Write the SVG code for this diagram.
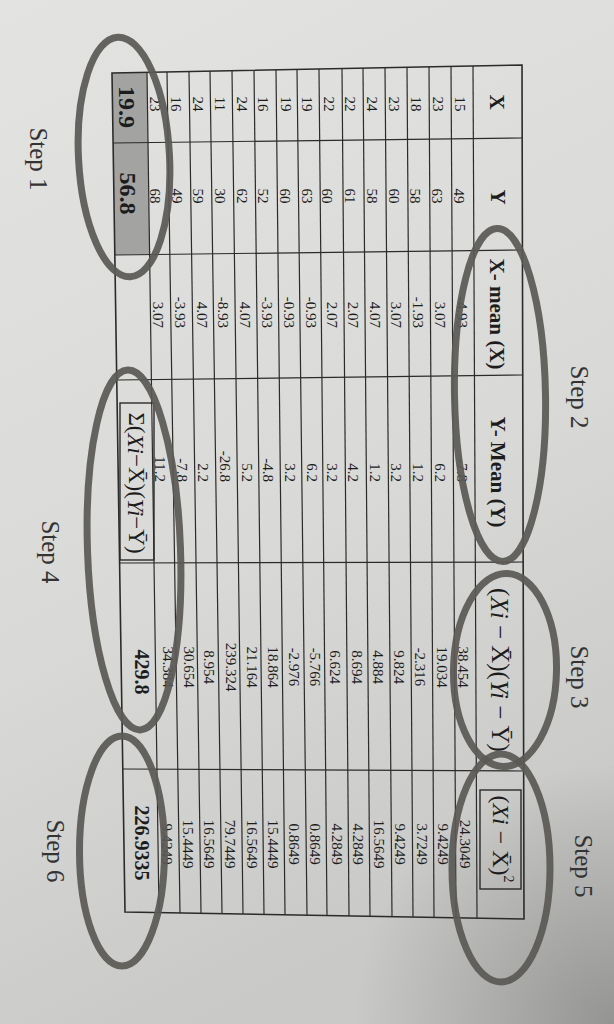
<svg xmlns="http://www.w3.org/2000/svg" width="614" height="1024" viewBox="0 0 614 1024">
<style>
text{font-family:"Liberation Serif","Times New Roman",serif;fill:#1c1c1c;dominant-baseline:central;text-anchor:middle}
.d{font-size:15px}
.de{font-size:15px;text-anchor:end}
.h{font-size:21px;font-weight:bold}
.tot{font-weight:bold}
.m{font-size:25px}
.s{font-size:25px;fill:#333}
.it{font-style:italic}
.grid line{stroke:#2b2b2b;stroke-width:1.2}
.edge{fill:none;stroke:#2b2b2b;stroke-width:1.6}
.ring{fill:none;stroke:#5a5955;stroke-width:7;opacity:0.93}
</style>
<defs>
<linearGradient id="paper" x1="0" y1="0" x2="0.3" y2="1">
<stop offset="0" stop-color="#e3e3e1"/>
<stop offset="0.6" stop-color="#d9d9d7"/>
<stop offset="1" stop-color="#c9c9c7"/>
</linearGradient>
<radialGradient id="shade" cx="614" cy="1024" r="260" gradientUnits="userSpaceOnUse">
<stop offset="0" stop-color="#8e8e8c" stop-opacity="0.9"/>
<stop offset="1" stop-color="#8e8e8c" stop-opacity="0"/>
</radialGradient>
</defs>
<rect width="614" height="1024" fill="url(#paper)"/>
<rect width="614" height="1024" fill="url(#shade)"/>

<g id="table">
<polygon id="shaded-totals" points="112.3,73 147,72.3 149.6,254 114.8,255" fill="#a3a3a1"/>
<g class="grid">
<line x1="473" y1="66" x2="477" y2="918.2"/>
<line x1="451" y1="66.4" x2="456" y2="917.8"/>
<line x1="429" y1="66.8" x2="434" y2="917.4"/>
<line x1="407" y1="67.2" x2="413" y2="917.1"/>
<line x1="385" y1="67.7" x2="392" y2="916.7"/>
<line x1="363" y1="68.1" x2="370" y2="916.3"/>
<line x1="342" y1="68.5" x2="349" y2="915.9"/>
<line x1="319" y1="69" x2="327" y2="915.5"/>
<line x1="297" y1="69.4" x2="307" y2="915.2"/>
<line x1="276" y1="69.8" x2="285" y2="914.8"/>
<line x1="254" y1="70.2" x2="264" y2="914.4"/>
<line x1="232" y1="70.7" x2="243" y2="914.1"/>
<line x1="210" y1="71.1" x2="222" y2="913.7"/>
<line x1="189" y1="71.5" x2="201" y2="913.3"/>
<line x1="167" y1="71.9" x2="180" y2="913"/>
<line x1="147" y1="72.3" x2="159" y2="912.6"/>
<line x1="113.1" y1="143" x2="522.2" y2="138"/>
<line x1="114.8" y1="255" x2="522.5" y2="250"/>
<line x1="116.8" y1="380" x2="522.9" y2="375"/>
<line x1="119.6" y1="563" x2="523.4" y2="562"/>
<line x1="122.8" y1="769" x2="523.9" y2="771"/>
</g>
<polygon class="edge" points="112,73 522,65 524,919 125,912"/>
<rect class="edge" x="120" y="403" width="34" height="157" style="stroke-width:1.4"/>
<rect class="edge" x="480" y="790" width="41" height="99" style="stroke-width:1.4"/>

<g id="headers" transform="rotate(90)">
<text class="h" x="102" y="-497">X</text>
<text class="h" x="197" y="-498">Y</text>
<text class="h" x="314" y="-497">X- mean (X)</text>
<text class="h" x="472" y="-498">Y- Mean (Y)</text>
<text class="m" x="670" y="-500">(<tspan class="it">Xi</tspan> − X̄)(<tspan class="it">Yi</tspan> − Ȳ)</text>
<text class="m" x="839" y="-501" style="font-size:24px">(<tspan class="it">Xi</tspan> − X̄)<tspan baseline-shift="super" style="font-size:14px">2</tspan></text>
</g>

<g id="col-x" transform="rotate(90)">
<text class="d" x="104" y="-460">15</text>
<text class="d" x="104" y="-438">23</text>
<text class="d" x="104" y="-416">18</text>
<text class="d" x="104" y="-394">23</text>
<text class="d" x="104" y="-372">24</text>
<text class="d" x="104" y="-350">22</text>
<text class="d" x="104" y="-329">22</text>
<text class="d" x="104" y="-307">19</text>
<text class="d" x="104" y="-286">19</text>
<text class="d" x="104" y="-263">16</text>
<text class="d" x="104" y="-242">24</text>
<text class="d" x="104" y="-220">11</text>
<text class="d" x="104" y="-198">24</text>
<text class="d" x="104" y="-176">16</text>
<text class="d" x="104" y="-155">23</text>
</g>
<g id="col-y" transform="rotate(90)">
<text class="d" x="196" y="-459">49</text>
<text class="d" x="196" y="-437">63</text>
<text class="d" x="196" y="-415">58</text>
<text class="d" x="196" y="-394">60</text>
<text class="d" x="196" y="-372">58</text>
<text class="d" x="196" y="-350">61</text>
<text class="d" x="196" y="-327">60</text>
<text class="d" x="196" y="-307">63</text>
<text class="d" x="196" y="-285">60</text>
<text class="d" x="196" y="-263">52</text>
<text class="d" x="196" y="-242">62</text>
<text class="d" x="196" y="-220">30</text>
<text class="d" x="196" y="-198">59</text>
<text class="d" x="196" y="-177">49</text>
<text class="d" x="196" y="-155">68</text>
</g>
<g id="col-xmean" transform="rotate(90)">
<text class="de" x="328" y="-462">-4.93</text>
<text class="de" x="328" y="-440">3.07</text>
<text class="de" x="328" y="-418">-1.93</text>
<text class="de" x="328" y="-396">3.07</text>
<text class="de" x="328" y="-375">4.07</text>
<text class="de" x="328" y="-353">2.07</text>
<text class="de" x="328" y="-332">2.07</text>
<text class="de" x="328" y="-311">-0.93</text>
<text class="de" x="328" y="-289">-0.93</text>
<text class="de" x="328" y="-267">-3.93</text>
<text class="de" x="328" y="-245">4.07</text>
<text class="de" x="328" y="-223">-8.93</text>
<text class="de" x="328" y="-202">4.07</text>
<text class="de" x="328" y="-180">-3.93</text>
<text class="de" x="328" y="-158">3.07</text>
</g>
<g id="col-ymean" transform="rotate(90)">
<text class="de" x="482" y="-462">-7.8</text>
<text class="de" x="482" y="-440">6.2</text>
<text class="de" x="482" y="-418">1.2</text>
<text class="de" x="482" y="-396">3.2</text>
<text class="de" x="482" y="-375">1.2</text>
<text class="de" x="482" y="-353">4.2</text>
<text class="de" x="482" y="-332">3.2</text>
<text class="de" x="482" y="-312">6.2</text>
<text class="de" x="482" y="-290">3.2</text>
<text class="de" x="482" y="-268">-4.8</text>
<text class="de" x="482" y="-247">5.2</text>
<text class="de" x="482" y="-225">-26.8</text>
<text class="de" x="482" y="-203">2.2</text>
<text class="de" x="482" y="-182">-7.8</text>
<text class="de" x="482" y="-160">11.2</text>
</g>
<g id="col-xy" transform="rotate(90)">
<text class="d" x="667" y="-463">38.454</text>
<text class="d" x="667" y="-442">19.034</text>
<text class="d" x="667" y="-420">-2.316</text>
<text class="d" x="667" y="-399">9.824</text>
<text class="d" x="667" y="-378">4.884</text>
<text class="d" x="667" y="-357">8.694</text>
<text class="d" x="667" y="-335">6.624</text>
<text class="d" x="667" y="-315">-5.766</text>
<text class="d" x="667" y="-294">-2.976</text>
<text class="d" x="667" y="-273">18.864</text>
<text class="d" x="667" y="-252">21.164</text>
<text class="d" x="667" y="-231">239.324</text>
<text class="d" x="667" y="-209">8.954</text>
<text class="d" x="667" y="-189">30.654</text>
<text class="d" x="667" y="-168">34.384</text>
</g>
<g id="col-x2" transform="rotate(90)">
<text class="d" x="844" y="-465">24.3049</text>
<text class="d" x="844" y="-443">9.4249</text>
<text class="d" x="844" y="-422">3.7249</text>
<text class="d" x="844" y="-400">9.4249</text>
<text class="d" x="844" y="-379">16.5649</text>
<text class="d" x="844" y="-358">4.2849</text>
<text class="d" x="844" y="-337">4.2849</text>
<text class="d" x="844" y="-315">0.8649</text>
<text class="d" x="844" y="-294">0.8649</text>
<text class="d" x="844" y="-273">15.4449</text>
<text class="d" x="844" y="-252">16.5649</text>
<text class="d" x="844" y="-230">79.7449</text>
<text class="d" x="844" y="-209">16.5649</text>
<text class="d" x="844" y="-188">15.4449</text>
<text class="d" x="844" y="-167">9.4249</text>
</g>
<g id="totals" transform="rotate(90)">
<text class="tot" x="107" y="-127" style="font-size:24px">19.9</text>
<text class="tot" x="193.5" y="-127.5" style="font-size:24px">56.8</text>
<text class="m" x="483" y="-136" style="font-size:23px">Σ(<tspan class="it">Xi</tspan>−X̄)(<tspan class="it">Yi</tspan>−Ȳ)</text>
<text class="tot" x="672" y="-142" style="font-size:20px">429.8</text>
<text class="tot" x="843" y="-142" style="font-size:20px">226.9335</text>
</g>
</g>

<g id="step1"><ellipse class="ring" cx="124" cy="157" rx="45.5" ry="120" transform="rotate(-3 124 157)"/><text class="s" transform="translate(38,159) rotate(90)">Step 1</text></g>
<g id="step2"><ellipse class="ring" cx="500" cy="395" rx="45.5" ry="166.5" transform="rotate(-1 500 395)"/><text class="s" transform="translate(579,397) rotate(90)">Step 2</text></g>
<g id="step3"><ellipse class="ring" cx="505" cy="670" rx="51.5" ry="96.5" transform="rotate(1 505 670)"/><text class="s" transform="translate(579,677) rotate(90)">Step 3</text></g>
<g id="step4"><ellipse class="ring" cx="134" cy="550" rx="46.5" ry="180" transform="rotate(-2 134 550)"/><text class="s" transform="translate(50,552) rotate(90)">Step 4</text></g>
<g id="step5"><ellipse class="ring" cx="501" cy="868" rx="49" ry="114"/><text class="s" transform="translate(583,866) rotate(90)">Step 5</text></g>
<g id="step6"><ellipse class="ring" cx="122" cy="851" rx="42.5" ry="115"/><text class="s" transform="translate(55,851) rotate(90)">Step 6</text></g>
</svg>
